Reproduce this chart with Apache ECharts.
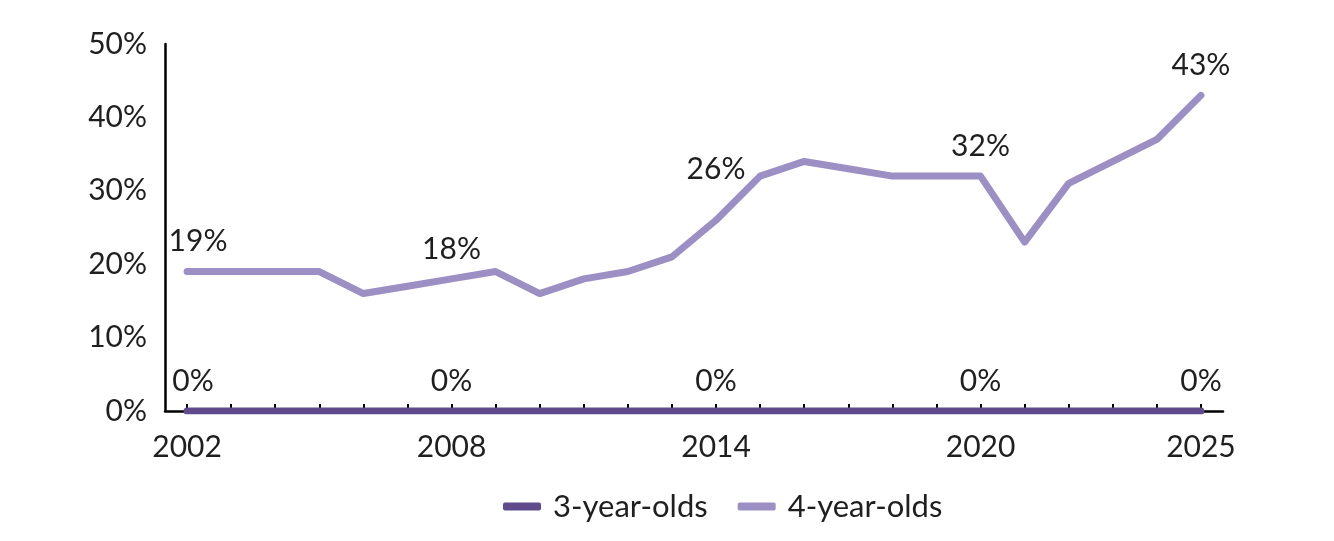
<!DOCTYPE html>
<html>
<head>
<meta charset="utf-8">
<script src="https://cdn.jsdelivr.net/npm/echarts@6/dist/echarts.min.js"></script>
<style>
html,body{margin:0;padding:0;background:#fff;}
#chart{width:1334px;height:541px;}
</style>
</head>
<body>
<div id="chart"></div>
<script>
var years = ['2002','2003','2004','2005','2006','2007','2008','2009','2010','2011','2012','2013','2014','2015','2016','2017','2018','2019','2020','2021','2022','2023','2024','2025'];
var threeYearOlds = [0,0,0,0,0,0,0,0,0,0,0,0,0,0,0,0,0,0,0,0,0,0,0,0];
var fourYearOlds = [19,19,19,19,16,17,18,19,16,18,19,21,26,32,34,33,32,32,32,23,31,34,37,43];
var labelIndices = [0,6,12,18,23];
var yTicks = [0,10,20,30,40,50];

var FONT = 'Lato';
var TEXT = '#1f1f1f';
var DARK = '#5F4A8B';
var LIGHT = '#9C8FC4';

function buildData(values, special) {
  return values.map(function (v, i) {
    var item = { value: v };
    if (labelIndices.indexOf(i) >= 0) {
      item.label = { show: true };
      if (special && special[i]) item.label.offset = special[i];
    }
    return item;
  });
}

var labelStyle = {
  show: false,
  position: 'top',
  distance: 14,
  formatter: '{c}%',
  fontFamily: FONT,
  fontSize: 30,
  color: TEXT
};

var chart = echarts.init(document.getElementById('chart'));
chart.setOption({
  animation: false,
  grid: { left: 165, right: 111, top: 44, bottom: 130, containLabel: false },
  legend: {
    left: 498,
    top: 486,
    itemWidth: 38,
    itemHeight: 8,
    itemGap: 30,
    icon: 'roundRect',
    textStyle: { fontFamily: FONT, fontSize: 31, color: TEXT, padding: [0,0,0,7] },
    data: ['3-year-olds', '4-year-olds']
  },
  xAxis: {
    type: 'category',
    data: years,
    boundaryGap: true,
    axisLine: { lineStyle: { color: '#000', width: 2.5 } },
    axisTick: { show: true, inside: true, alignWithLabel: true, interval: 0, length: 7, lineStyle: { color: '#000', width: 2 } },
    axisLabel: {
      interval: function (i) { return labelIndices.indexOf(i) >= 0; },
      margin: 21,
      fontFamily: FONT,
      fontSize: 30,
      color: TEXT
    },
    splitLine: { show: false }
  },
  yAxis: {
    type: 'value',
    min: yTicks[0],
    max: yTicks[yTicks.length - 1],
    interval: 10,
    axisLine: { show: true, lineStyle: { color: '#000', width: 2.5 } },
    axisTick: { show: false },
    splitLine: { show: false },
    axisLabel: {
      formatter: '{value}%',
      margin: 18,
      fontFamily: FONT,
      fontSize: 30,
      color: TEXT
    }
  },
  series: [
    {
      name: '4-year-olds',
      type: 'line',
      data: buildData(fourYearOlds, { 0: [11, 0], 12: [0, -21] }),
      symbol: 'circle',
      symbolSize: 2,
      showSymbol: true,
      lineStyle: { color: LIGHT, width: 7, cap: 'round', join: 'round' },
      itemStyle: { color: LIGHT },
      label: labelStyle,
      z: 2
    },
    {
      name: '3-year-olds',
      type: 'line',
      data: buildData(threeYearOlds, { 0: [6, 0] }),
      symbol: 'circle',
      symbolSize: 2,
      showSymbol: true,
      lineStyle: { color: DARK, width: 7, cap: 'round', join: 'round' },
      itemStyle: { color: DARK },
      label: labelStyle,
      z: 3
    }
  ]
});
</script>
</body>
</html>
